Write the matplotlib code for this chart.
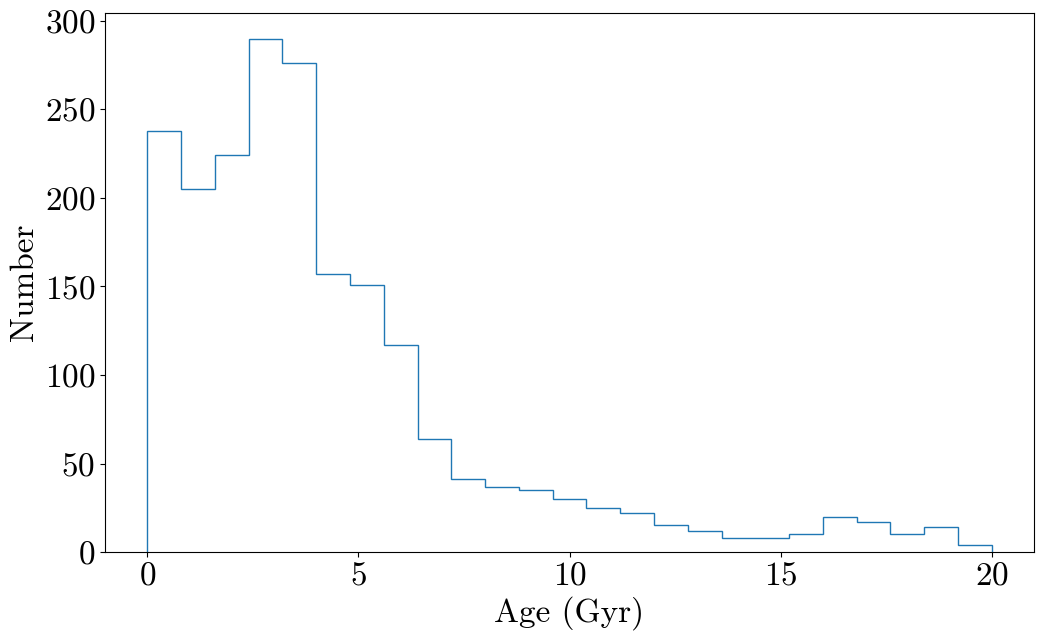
import numpy as np
import matplotlib
matplotlib.use("Agg")
import matplotlib.pyplot as plt
from matplotlib.ticker import MultipleLocator

# ---------------------------------------------
# DATA (age histogram, 25 bins from 0 to 20 Gyr)
# ---------------------------------------------

bin_edges = np.linspace(0, 20, 26)
counts = [238, 205, 224, 290, 276, 157, 151, 117, 64, 41,
          37, 35, 30, 25, 22, 15, 12, 8, 8, 10,
          20, 17, 10, 14, 4]

# ---------------------------------------------
# STYLE (Computer Modern look)
# ---------------------------------------------

plt.rcParams["font.family"] = "serif"
plt.rcParams["font.serif"] = ["cmr10"]
plt.rcParams["mathtext.fontset"] = "cm"
plt.rcParams["axes.formatter.use_mathtext"] = True
plt.rcParams["axes.unicode_minus"] = False

fig, ax = plt.subplots(figsize=(10.43, 6.43), dpi=100)
fig.subplots_adjust(left=0.1007, right=0.9914, bottom=0.1415, top=0.9798)

ax.hist(bin_edges[:-1], bins=bin_edges, weights=counts, histtype="step")

ax.xaxis.set_major_locator(MultipleLocator(5))
ax.set_xlabel("Age (Gyr)", fontsize=24)
ax.set_ylabel("Number", fontsize=24)
ax.tick_params(labelsize=24)

fig.savefig("out.png", dpi=100)
